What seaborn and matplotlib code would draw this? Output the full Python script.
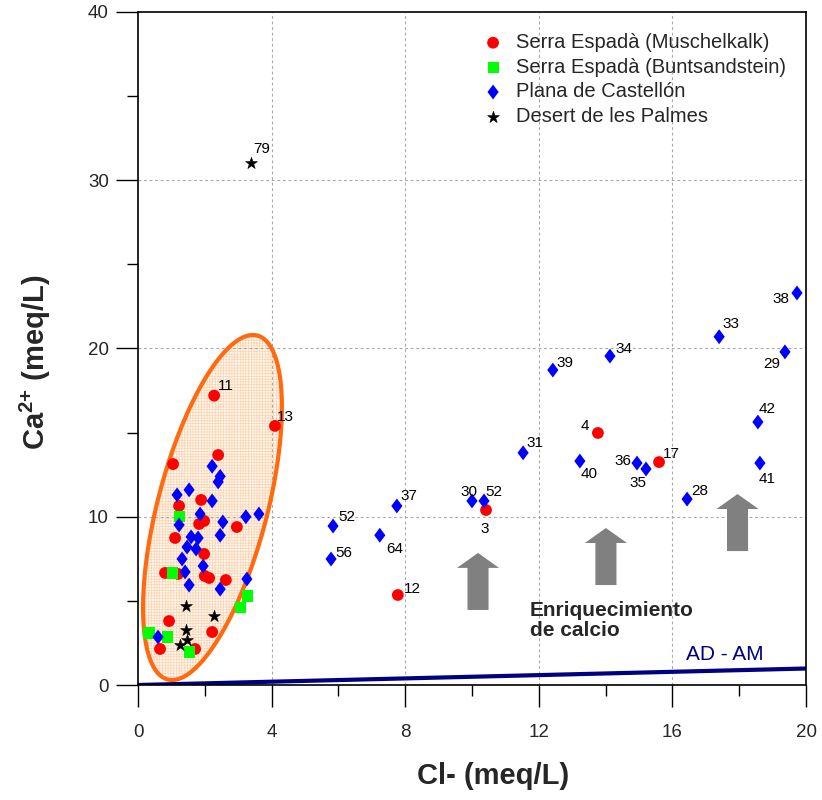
import numpy as np
import pandas as pd
import matplotlib
matplotlib.use("Agg")
import matplotlib.pyplot as plt
import seaborn as sns
from matplotlib.patches import Polygon, FancyArrow

# ---------------- data ----------------
# Serra Espadà (Muschelkalk)
musch_cl = [2.28, 4.10, 7.78, 10.42, 13.77, 15.60,
            2.40, 1.05, 1.89, 1.23, 1.83, 1.98, 2.96, 1.11, 1.98, 0.81,
            1.20, 2.00, 2.13, 2.63, 0.93, 2.22, 0.66, 1.71]
musch_ca = [17.2, 15.4, 5.35, 10.4, 14.98, 13.25,
            13.67, 13.13, 11.0, 10.64, 9.57, 9.75, 9.39, 8.74, 7.79, 6.66,
            6.6, 6.48, 6.36, 6.24, 3.8, 3.15, 2.14, 2.14]
musch_lab = ["11", "13", "12", "3", "4", "17"]

# Serra Espadà (Buntsandstein)
bunt_cl = [1.23, 1.02, 3.29, 3.08, 0.33, 0.87, 1.53]
bunt_ca = [10.04, 6.66, 5.29, 4.58, 3.09, 2.85, 1.96]

# Plana de Castellón
plana_cl = [5.84, 5.78, 7.24, 7.75, 10.00, 10.36, 11.53, 12.42, 14.13, 13.23,
            14.94, 15.21, 16.44, 17.40, 19.37, 19.73, 18.56, 18.62,
            2.22, 2.46, 2.40, 1.17, 1.53, 2.22, 1.86, 3.23, 3.62, 2.54, 1.23,
            2.46, 1.59, 1.80, 1.47, 1.74, 1.32, 1.95, 1.41, 3.26, 1.53, 2.46, 0.60]
plana_ca = [9.45, 7.49, 8.9, 10.64, 10.94, 10.94, 13.8, 18.72, 19.55, 13.31,
            13.19, 12.84, 11.05, 20.7, 19.8, 23.3, 15.63, 13.19,
            13.0, 12.4, 12.07, 11.3, 11.6, 10.94, 10.16, 10.0, 10.16, 9.69, 9.51,
            8.9, 8.8, 8.74, 8.2, 8.08, 7.49, 7.07, 6.72, 6.3, 5.94, 5.7, 2.85]
plana_lab = ["52", "56", "64", "37", "30", "52", "31", "39", "34", "40",
             "36", "35", "28", "33", "29", "38", "42", "41"]

# Desert de les Palmes
palmes_cl = [3.38, 1.44, 2.28, 1.44, 1.47, 1.26]
palmes_ca = [31.0, 4.7, 4.1, 3.27, 2.67, 2.38]
palmes_lab = ["79"]

# AD - AM mixing line
adam_cl = [0, 20]
adam_ca = [0, 0.98]

# calcium-enrichment arrows (Cl position, Ca start)
arrow_cl = [10.18, 14.01, 17.95]
arrow_ca = [4.46, 5.94, 7.96]

x_ticks = [0, 4, 8, 12, 16, 20]
y_ticks = [0, 10, 20, 30, 40]

series_names = ["Serra Espadà (Muschelkalk)", "Serra Espadà (Buntsandstein)",
                "Plana de Castellón", "Desert de les Palmes"]

# label placement (pixel offsets from the point, horizontal alignment)
musch_off = [(4, 6, "left"), (2, 5, "left"), (6, 2, "left"), (-1, -23, "center"),
             (-9, 3, "right"), (4, 4, "left")]
plana_off = [(5, 5, "left"), (4, 2, "left"), (6, -18, "left"), (4, 6, "left"),
             (5, 5, "right"), (1, 5, "left"), (3, 6, "left"), (4, 3, "left"),
             (6, 3, "left"), (1, -17, "left"), (-6, -2, "right"), (0, -18, "right"),
             (4, 4, "left"), (3, 9, "left"), (-5, -16, "right"), (-8, -10, "right"),
             (1, 9, "left"), (-1, -20, "left")]
palmes_off = [(2, 10, "left")]

# ---------------- style ----------------
sns.set_theme(style="white")
plt.rcParams["font.family"] = ["Liberation Sans", "DejaVu Sans"]
plt.rcParams["mathtext.fontset"] = "custom"
plt.rcParams["mathtext.rm"] = "Liberation Sans"
plt.rcParams["mathtext.bf"] = "Liberation Sans:bold"
plt.rcParams["hatch.linewidth"] = 0.5

fig = plt.figure(figsize=(8.22, 8.0), dpi=100)
ax = fig.add_axes([138 / 822, 115 / 800, 668 / 822, 673 / 800])
ax.set_xlim(0, 20)
ax.set_ylim(0, 40)

px_x = ax.bbox.width / 20.0
px_y = ax.bbox.height / 40.0

# grid (interior only)
for v in x_ticks[1:-1]:
    ax.axvline(v, color="#a8a8a8", lw=0.8, ls=(0, (2.5, 2.5)), zorder=1.5)
for v in y_ticks[1:-1]:
    ax.axhline(v, color="#a8a8a8", lw=0.8, ls=(0, (2.5, 2.5)), zorder=1.5)

# highlighted ellipse around the low-Cl group
cx, cy = 2.23, 10.55
a_px, b_px, th = 177.7, 54.8, np.deg2rad(14.6)
t = np.linspace(0, 2 * np.pi, 300)
dx = a_px * np.cos(t) * np.sin(th) + b_px * np.sin(t) * np.cos(th)
dy = a_px * np.cos(t) * np.cos(th) - b_px * np.sin(t) * np.sin(th)
ell = np.column_stack([cx + dx / px_x, cy + dy / px_y])
ax.add_patch(Polygon(ell, closed=True, facecolor="#FFF6EE", edgecolor="#FAD4B0",
                     hatch="++++++", lw=0, zorder=1))
ax.add_patch(Polygon(ell, closed=True, fill=False, edgecolor="#FF6A10",
                     lw=3, zorder=2))

# AD - AM line
sns.lineplot(x=adam_cl, y=adam_ca, color="#000080", lw=3, ax=ax, zorder=2.5)
ax.text(17.57, 1.25, "AD - AM", color="#000080", fontsize=15,
        ha="center", va="bottom", zorder=3)

# arrows
for xa, ya in zip(arrow_cl, arrow_ca):
    ax.add_patch(FancyArrow(xa, ya, 0, 3.39, width=0.63, head_width=1.26,
                            head_length=0.89, length_includes_head=True,
                            color="#808080", lw=0, zorder=2))
ax.text(11.74, 5.0, "Enriquecimiento\nde calcio", fontsize=15, fontweight="bold",
        ha="left", va="top", linespacing=1.05, zorder=3)

# scatter series
diamond = [(0, 1), (0.75, 0), (0, -1), (-0.75, 0), (0, 1)]
sns.scatterplot(x=musch_cl, y=musch_ca, marker="o", color="#FF0000", s=72,
                edgecolor="none", linewidth=0, label=series_names[0], ax=ax, zorder=4)
sns.scatterplot(x=bunt_cl, y=bunt_ca, marker="s", color="#00FF00", s=64,
                edgecolor="none", linewidth=0, label=series_names[1], ax=ax, zorder=4)
sns.scatterplot(x=plana_cl, y=plana_ca, marker=diamond, color="#0000FF", s=115,
                edgecolor="none", linewidth=0, label=series_names[2], ax=ax, zorder=4)
sns.scatterplot(x=palmes_cl, y=palmes_ca, marker="*", color="#000000", s=80,
                edgecolor="black", linewidth=0.4, label=series_names[3], ax=ax, zorder=5)

# point labels
def put_labels(xs, ys, labs, offs):
    for xv, yv, lab, (ox, oy, ha) in zip(xs, ys, labs, offs):
        ax.annotate(lab, (xv, yv), xytext=(ox, oy), textcoords="offset pixels",
                    ha=ha, va="baseline", fontsize=11, color="black", zorder=6)

put_labels(musch_cl, musch_ca, musch_lab, musch_off)
put_labels(plana_cl, plana_ca, plana_lab, plana_off)
put_labels(palmes_cl, palmes_ca, palmes_lab, palmes_off)

# legend
ax.legend(loc="upper left", bbox_to_anchor=((483 - 138) / 668, (685 - 33) / 673),
          frameon=False, borderpad=0, borderaxespad=0, handlelength=1.0,
          handletextpad=0.65, labelspacing=0.28, fontsize=14.5, scatterpoints=1)

# axes, ticks
ax.set_xticks(x_ticks)
ax.set_yticks(y_ticks)
ax.set_xticks([v + 2 for v in x_ticks[:-1]], minor=True)
ax.set_yticks([v + 5 for v in y_ticks[:-1]], minor=True)
ax.tick_params(which="major", direction="out", length=16, width=1, color="black",
               labelsize=13.5, bottom=True, left=True)
ax.tick_params(which="minor", direction="out", length=8, width=1, color="black",
               bottom=True, left=True)
ax.tick_params(axis="x", which="major", pad=12)
ax.tick_params(axis="y", which="major", pad=5)
for sp in ax.spines.values():
    sp.set_color("black")
    sp.set_linewidth(1.2)
    sp.set_visible(True)

ax.set_xlabel("Cl- (meq/L)", fontsize=21, fontweight="bold")
ax.set_ylabel(r"Ca$^{\mathbf{2{+}}}$ (meq/L)", fontsize=21, fontweight="bold")
ax.xaxis.set_label_coords((493 - 138) / 668, (685 - 776) / 673)
ax.yaxis.set_label_coords((35 - 138) / 668, (685 - 362) / 673)
ax.xaxis.label.set_va("center")
ax.yaxis.label.set_va("center")

fig.savefig("out.png", dpi=100)
